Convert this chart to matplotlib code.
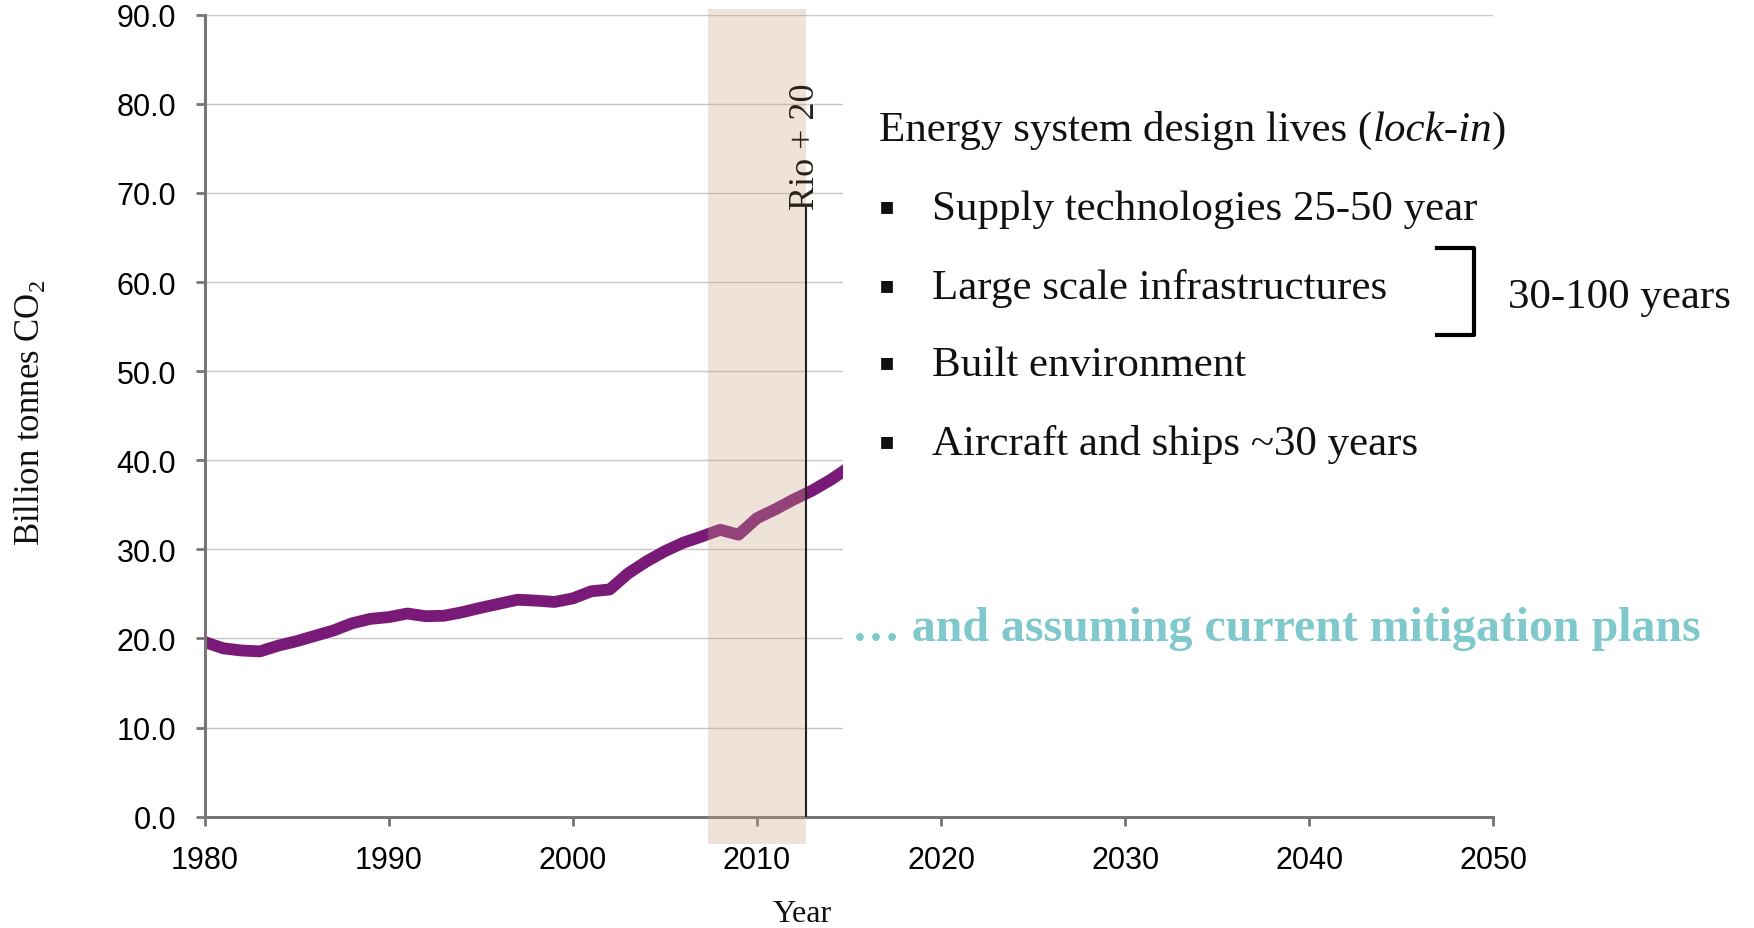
#!/usr/bin/env python3
"""Global CO2 emissions 1980-2015 with the Rio+20 window and energy-system
lock-in notes, redrawn from a presentation slide."""

import matplotlib

matplotlib.use("Agg")
import matplotlib.pyplot as plt
from matplotlib.patches import Rectangle

years = list(range(1980, 2016))
emissions = [19.6, 18.9, 18.65, 18.55, 19.2, 19.7, 20.3, 20.9, 21.7, 22.2,
             22.4, 22.8, 22.5, 22.55, 22.95, 23.45, 23.9, 24.35, 24.25, 24.1,
             24.5, 25.3, 25.5, 27.3, 28.65, 29.8, 30.75, 31.45, 32.2, 31.65,
             33.5, 34.5, 35.6, 36.6, 37.8, 39.2]

x_ticks = [1980, 1990, 2000, 2010, 2020, 2030, 2040, 2050]
y_ticks = [0, 10, 20, 30, 40, 50, 60, 70, 80, 90]

band_start, band_end = 2007.35, 2012.66
rio_year, rio_line_top = 2012.66, 68.4
cover_start = 2014.65

title_text = "Energy system design lives ("
title_italic = "lock-in"
bullet_items = ["Supply technologies 25-50 year", "Large scale infrastructures",
                "Built environment", "Aircraft and ships ~30 years"]
bullet_y = [68.25, 59.4, 50.75, 41.85]
bracket_label = "30-100 years"
footer_text = "\u2026 and assuming current mitigation plans"

SERIF = "Liberation Serif"
SANS = "Liberation Sans"
PURPLE = "#7A1A78"
TEAL = "#7FC8CC"
TEXT = "#111111"


def main():
    plt.rcParams["mathtext.fontset"] = "custom"
    plt.rcParams["mathtext.rm"] = SERIF

    fig = plt.figure(figsize=(17.54, 9.29), dpi=100)
    ax = fig.add_axes([0.1167, 0.1198, 0.7347, 0.8633])

    ax.plot(years, emissions, color=PURPLE, lw=8.5, solid_joinstyle="round",
            solid_capstyle="butt", zorder=2)

    # white panel that hides grid lines behind the notes
    ax.add_patch(Rectangle((cover_start, 1), 2050 - cover_start, 88,
                           facecolor="white", lw=0, zorder=2.6))
    ax.add_patch(Rectangle((band_start, -3.1), band_end - band_start, 93.7,
                           facecolor="#CDA280", alpha=0.3, lw=0, zorder=3,
                           clip_on=False))
    ax.vlines(rio_year, 0, rio_line_top, color="#222222", lw=1.5, zorder=4)
    ax.text(2012.64, 68.2, "Rio + 20", rotation=90, ha="center", va="bottom",
            family=SERIF, fontsize=26, color="#2a2118", zorder=5)

    ax.set_xlim(1980, 2050)
    ax.set_ylim(0, 90)
    ax.set_xticks(x_ticks)
    ax.set_yticks(y_ticks)
    ax.set_yticklabels([f"{v:.1f}" for v in y_ticks])
    ax.grid(axis="y", color="#c6c6c6", lw=1.0)
    ax.set_axisbelow(True)
    for side in ("top", "right"):
        ax.spines[side].set_visible(False)
    for side in ("left", "bottom"):
        ax.spines[side].set_color("#767676")
        ax.spines[side].set_linewidth(2.2)
    ax.tick_params(direction="out", length=6.5, width=2, color="#767676",
                   pad=14, labelsize=22)
    for lab in ax.get_xticklabels() + ax.get_yticklabels():
        lab.set_family(SANS)

    ax.set_xlabel("Year", family=SERIF, fontsize=23, color=TEXT)
    ax.xaxis.set_label_coords(0.4635, -0.103)
    fig.text(30 / 1754, 1 - 413 / 929, "Billion tonnes CO$_\\mathregular{2}$",
             rotation=90, ha="center", va="center", family=SERIF, fontsize=25,
             color=TEXT)

    # lock-in notes
    t1 = ax.text(2016.63, 77.1, title_text, ha="left", va="center",
                 family=SERIF, fontsize=31, color=TEXT, zorder=5)
    t2 = ax.annotate(title_italic, xy=(1, 0), xycoords=t1, ha="left",
                     va="bottom", family=SERIF, style="italic", fontsize=31,
                     color=TEXT, zorder=5)
    ax.annotate(")", xy=(1, 0), xycoords=t2, ha="left", va="bottom",
                family=SERIF, fontsize=31, color=TEXT, zorder=5)
    for label, y in zip(bullet_items, bullet_y):
        ax.text(2017.06, y + 0.4, "\u25aa", ha="center", va="center",
                family="DejaVu Sans", fontsize=17, color=TEXT, zorder=5)
        ax.text(2019.49, y, label, ha="left", va="center", family=SERIF,
                fontsize=31, color=TEXT, zorder=5)

    ax.plot([2046.95, 2048.95, 2048.95, 2046.95], [63.8, 63.8, 54.1, 54.1],
            color="black", lw=3, solid_joinstyle="round", clip_on=False,
            zorder=5)
    ax.text(2050.8, 58.4, bracket_label, ha="left", va="center", family=SERIF,
            fontsize=31, color=TEXT, clip_on=False, zorder=5)

    ax.text(2015.15, 19.8, footer_text, ha="left", va="baseline",
            family=SERIF, weight="bold", fontsize=34.5, color=TEAL, zorder=5)

    fig.savefig("out.png", dpi=100)
    plt.close(fig)


if __name__ == "__main__":
    main()
